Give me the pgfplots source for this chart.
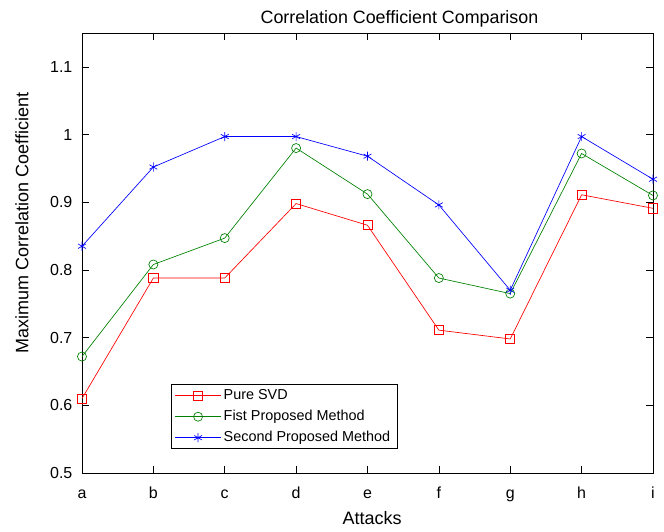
\documentclass[border=0pt]{standalone}
\usepackage{pgfplots}
\pgfplotsset{compat=1.18}
\usepackage{fontspec}
\setmainfont{Liberation Sans}
\definecolor{mgreen}{RGB}{0,128,0}
\begin{document}
\begin{tikzpicture}
\begin{axis}[
  width=428.25pt, height=330pt, scale only axis, clip=false,
  xmin=0, xmax=8, ymin=0.5, ymax=1.15,
  xtick={0,...,8}, xticklabels={a,b,c,d,e,f,g,h,i},
  ytick={0.5,0.6,0.7,0.8,0.9,1,1.1},
  yticklabels={0.5,0.6,0.7,0.8,0.9,1,1.1},
  tick align=inside, major tick length=5pt,
  xtick pos=both, ytick pos=both,
  ticklabel style={font=\fontsize{12}{14}\selectfont},
  xticklabel style={anchor=base, yshift=-19pt},
  yticklabel style={xshift=-3.7pt},
  /pgf/number format/assume math mode=true,
  title={Correlation Coefficient Comparison},
  every axis title/.style={at={(axis description cs:0.556,1.0221)}, anchor=base, font=\fontsize{13.4}{16}\selectfont},
  xlabel={Attacks}, ylabel={Maximum Correlation Coefficient},
  every axis x label/.style={at={(axis description cs:0.508,-0.1167)}, anchor=base, font=\fontsize{13.5}{16}\selectfont},
  every axis y label/.style={at={(axis description cs:-0.0941,0.568)}, rotate=90, anchor=base, font=\fontsize{13.5}{16}\selectfont},
  axis line style={line width=0.6pt},
  every tick/.style={black, line width=0.5pt},
  legend style={at={(0.1553,0.0539)}, anchor=south west, font=\fontsize{10.8}{13}\selectfont, draw=black, line width=0.6pt,
    inner xsep=3pt, inner ysep=0.5pt, row sep=0pt,
    nodes={inner ysep=2.5pt, text height=8pt, text depth=2.75pt}},
  legend cell align=left,
  legend image code/.code={\draw[mark repeat=2,mark phase=2,#1] plot coordinates {(0pt,0pt) (17pt,0pt) (34pt,0pt)};},
]
\addplot[red, line width=0.5pt, mark=square, mark size=3.4pt, mark options={solid}] coordinates {
(0,0.610) (1,0.788) (2,0.788) (3,0.898) (4,0.866) (5,0.711) (6,0.698) (7,0.911) (8,0.891)};
\addlegendentry{Pure SVD}
\addplot[mgreen, line width=0.5pt, mark=o, mark size=3.4pt] coordinates {
(0,0.672) (1,0.808) (2,0.847) (3,0.980) (4,0.912) (5,0.788) (6,0.765) (7,0.972) (8,0.910)};
\addlegendentry{Fist Proposed Method}
\addplot[blue, line width=0.5pt, mark=asterisk, mark size=3.4pt] coordinates {
(0,0.835) (1,0.952) (2,0.997) (3,0.997) (4,0.968) (5,0.896) (6,0.770) (7,0.997) (8,0.934)};
\addlegendentry{Second Proposed Method}
\path (rel axis cs:-0.1436,-0.1341) rectangle (rel axis cs:1.0193,1.075);
\end{axis}
\end{tikzpicture}
\end{document}
